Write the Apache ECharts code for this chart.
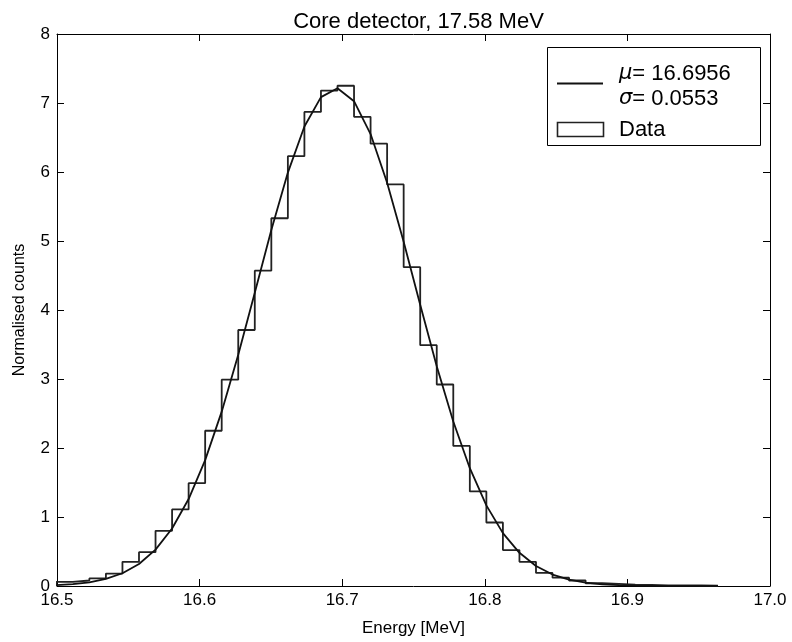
<!DOCTYPE html>
<html>
<head>
<meta charset="utf-8">
<script src="https://cdn.jsdelivr.net/npm/echarts@6/dist/echarts.min.js"></script>
<style>html,body{margin:0;padding:0;background:#fff;}#c{width:792px;height:642px;}</style>
</head>
<body>
<div id="c"></div>
<script>
// ---- data ----
var titleText = 'Core detector, 17.58 MeV';
var xLabel = 'Energy [MeV]';
var yLabel = 'Normalised counts';
var fitMu = '16.6956';
var fitSigma = '0.0553';

// histogram bin edges (MeV)
var binEdges = [16.4995,16.5111,16.5227,16.5343,16.5459,16.5575,16.5691,16.5807,16.5923,16.6039,
  16.6155,16.6271,16.6387,16.6503,16.6619,16.6735,16.6851,16.6967,16.7083,16.7199,
  16.7315,16.7431,16.7547,16.7663,16.7779,16.7895,16.8011,16.8127,16.8243,16.8359,
  16.8475,16.8591,16.8707,16.8823,16.8939,16.9055,16.9171,16.9287,16.9403,16.9519,16.9635];
// histogram heights per bin
var binCounts = [0.06,0.08,0.11,0.18,0.35,0.49,0.80,1.11,1.49,2.25,
  2.99,3.71,4.57,5.33,6.23,6.87,7.18,7.25,6.80,6.41,
  5.82,4.62,3.49,2.92,2.03,1.37,0.92,0.52,0.35,0.19,
  0.12,0.08,0.04,0.03,0.02,0.015,0.01,0.01,0.008,0.005];
// fitted curve, sampled at the bin edges
var fitValues = [0.013,0.028,0.054,0.103,0.185,0.319,0.527,0.833,1.260,1.824,
  2.527,3.350,4.249,5.158,5.991,6.660,7.085,7.213,7.026,6.550,
  5.843,4.989,4.075,3.186,2.384,1.707,1.169,0.766,0.481,0.289,
  0.166,0.091,0.048,0.024,0.012,0.005,0.002,0.001,0.0004,0.0002,0.0001];
var xTicks = [16.5,16.6,16.7,16.8,16.9,17.0];
var yTicks = [0,1,2,3,4,5,6,7,8];

// ---- build series data ----
var histPts = [[binEdges[0], 0]];
for (var i = 0; i < binCounts.length; i++) {
  histPts.push([binEdges[i], binCounts[i]]);
  histPts.push([binEdges[i+1], binCounts[i]]);
}
histPts.push([binEdges[binEdges.length-1], 0]);
var fitPts = binEdges.map(function(x, i){ return [x, fitValues[i]]; });

var FONT = 'Liberation Sans';
var chart = echarts.init(document.getElementById('c'), null, {renderer:'canvas'});
var L = 57, T = 34, R = 770, B = 588;

function xAx(pos, show) {
  return {
    type:'value', position:pos, min:xTicks[0], max:xTicks[xTicks.length-1], interval:0.1,
    axisLine:{show:true, onZero:false, lineStyle:{color:'#000', width:1}},
    axisTick:{show:true, inside:true, length:7, lineStyle:{color:'#000', width:1}},
    axisLabel:{show:show, color:'#000', fontFamily:FONT, fontSize:17, margin:6,
      formatter:function(v){ return v.toFixed(1); }},
    splitLine:{show:false},
    name: show ? xLabel : '', nameLocation:'middle', nameGap:34,
    nameTextStyle:{color:'#000', fontFamily:FONT, fontSize:17}
  };
}
function yAx(pos, show) {
  return {
    type:'value', position:pos, min:yTicks[0], max:yTicks[yTicks.length-1], interval:1,
    axisLine:{show:true, onZero:false, lineStyle:{color:'#000', width:1}},
    axisTick:{show:true, inside:true, length:7, lineStyle:{color:'#000', width:1}},
    axisLabel:{show:show, color:'#000', fontFamily:FONT, fontSize:17, margin:7},
    splitLine:{show:false},
    name: show ? yLabel : '', nameLocation:'middle', nameGap:29,
    nameTextStyle:{color:'#000', fontFamily:FONT, fontSize:16}
  };
}

var lgX = 547, lgY = 47, lgW = 213, lgH = 98;
chart.setOption({
  animation:false,
  backgroundColor:'#fff',
  title:{text:titleText, left:(L+R)/2, textAlign:'center', top:6,
    textStyle:{color:'#000', fontFamily:FONT, fontSize:22, fontWeight:'normal'}},
  grid:{left:L, top:T, width:R-L, height:B-T, containLabel:false},
  xAxis:[xAx('bottom', true), xAx('top', false)],
  yAxis:[yAx('left', true), yAx('right', false)],
  series:[
    {type:'line', name:'Data', data:histPts, xAxisIndex:0, yAxisIndex:0,
      showSymbol:false, symbol:'none', clip:true,
      lineStyle:{color:'#222', width:1.8}, z:2},
    {type:'line', name:'fit', data:fitPts, xAxisIndex:0, yAxisIndex:0,
      showSymbol:false, symbol:'none', clip:true,
      lineStyle:{color:'#111', width:1.8}, z:3}
  ],
  graphic:[
    {type:'rect', shape:{x:lgX+0.5, y:lgY+0.5, width:lgW, height:lgH},
      style:{fill:'#fff', stroke:'#000', lineWidth:1}, z:10},
    {type:'line', shape:{x1:557, y1:83.5, x2:603, y2:83.5},
      style:{stroke:'#111', lineWidth:1.8}, z:11},
    {type:'text', x:619, y:74, z:11,
      style:{text:'{m|\u03bc}= ' + fitMu, fill:'#000', font:'22px ' + FONT, verticalAlign:'middle',
        rich:{m:{fontStyle:'italic', fontFamily:'DejaVu Sans', fontSize:21, fill:'#000'}}}},
    {type:'text', x:619, y:99, z:11,
      style:{text:'{m|\u03c3}= ' + fitSigma, fill:'#000', font:'22px ' + FONT, verticalAlign:'middle',
        rich:{m:{fontStyle:'italic', fontFamily:'DejaVu Sans', fontSize:21, fill:'#000'}}}},
    {type:'rect', shape:{x:557.5, y:122.5, width:46, height:14},
      style:{fill:'#fff', stroke:'#222', lineWidth:1.6}, z:11},
    {type:'text', x:619, y:130, z:11,
      style:{text:'Data', fill:'#000', font:'22px ' + FONT, verticalAlign:'middle'}}
  ]
});
</script>
</body>
</html>
